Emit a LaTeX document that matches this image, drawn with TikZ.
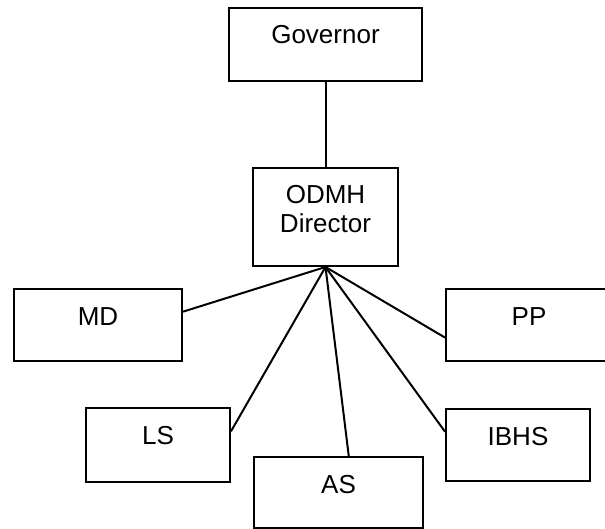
\documentclass[tikz,border=0pt]{standalone}
\usepackage{fontspec}
\setmainfont{Liberation Sans}
\usetikzlibrary{calc}

\begin{document}
\begin{tikzpicture}[x=0.5pt,y=-0.5pt,
  orgbox/.style={draw,line width=1pt,inner xsep=0pt,inner ysep=0pt,
    font=\fontsize{13}{14.5}\selectfont,text height=18pt},
  link/.style={line width=1pt}]
\clip (0,0) rectangle (605,529);
\node[orgbox,minimum width=96.5pt,text depth=18.5pt] (gov) at (325.5,44.5){Governor};
\node[orgbox,minimum width=72.5pt,text height=32.5pt,text depth=16.5pt,align=center] (dir) at (325.5,217){ODMH\\Director};
\node[orgbox,minimum width=84pt,text depth=18pt] (md) at (98,325){MD};
\node[orgbox,minimum width=83pt,text depth=18pt] (pp) at (529,325){PP};
\node[orgbox,minimum width=72pt,text depth=19pt] (ls) at (158,445){LS};
\node[orgbox,minimum width=72pt,text depth=18pt] (ibhs) at (518,445){IBHS};
\node[orgbox,minimum width=84.5pt,text depth=17.5pt] (as) at (338.5,492.5){AS};
% lines from the director
\draw[link] (gov.south)--(dir.north);
\draw[link] (dir.south)--($(md.north east)!0.32!(md.south east)$);
\draw[link] (dir.south)--($(ls.north east)!0.32!(ls.south east)$);
\draw[link] (dir.south)--($(as.north west)!0.56!(as.north east)$);
\draw[link] (dir.south)--($(ibhs.north west)!0.32!(ibhs.south west)$);
\draw[link] (dir.south)--($(pp.north west)!0.67!(pp.south west)$);
\end{tikzpicture}
\end{document}
